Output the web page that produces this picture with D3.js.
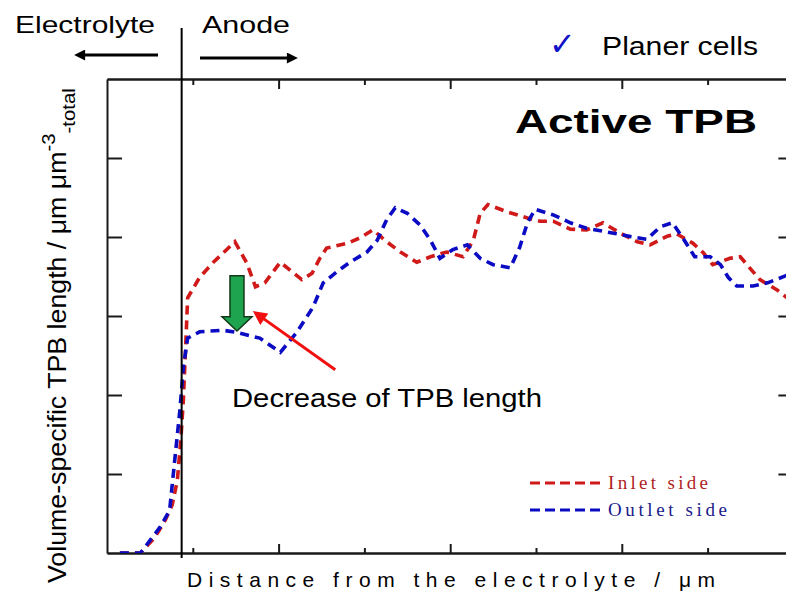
<!DOCTYPE html>
<html>
<head>
<meta charset="utf-8">
<script src="https://cdn.jsdelivr.net/npm/d3@7/dist/d3.min.js"></script>
<style>
  body { margin: 0; background: #fff; }
  svg { display: block; font-family: "Liberation Sans", Arial, sans-serif; }
  .axis path, .axis line { stroke: #1a1a1a; stroke-width: 2; }
</style>
</head>
<body>
<div id="chart"></div>
<script>
// distance (tick units) / TPB length (tick units)
const distInlet = [0.15, 0.39, 0.56, 0.68, 0.76, 0.82, 0.86, 0.89, 0.92, 0.94, 1.08, 1.24, 1.49, 1.63, 1.73, 1.84, 2.02, 2.27, 2.39, 2.48, 2.56, 2.80, 2.95, 3.10, 3.26, 3.42, 3.61, 3.77, 3.96, 4.15, 4.27, 4.35, 4.44, 4.66, 4.90, 5.05, 5.20, 5.40, 5.59, 5.78, 5.98, 6.18, 6.33, 6.53, 6.64, 6.83, 6.95, 7.06, 7.26, 7.38, 7.49, 7.61, 7.81, 7.96];
const tpbInlet = [0, 0, 0.20, 0.42, 0.61, 0.92, 1.43, 1.94, 2.70, 3.23, 3.49, 3.68, 3.94, 3.67, 3.37, 3.42, 3.68, 3.46, 3.54, 3.73, 3.86, 3.92, 3.99, 4.09, 3.94, 3.81, 3.68, 3.75, 3.81, 3.75, 3.96, 4.30, 4.41, 4.32, 4.24, 4.20, 4.20, 4.10, 4.09, 4.18, 4.05, 3.94, 3.90, 4.01, 4.04, 3.92, 3.80, 3.65, 3.73, 3.75, 3.61, 3.46, 3.33, 3.20];

const distOutlet = [0.15, 0.39, 0.62, 0.73, 0.79, 0.85, 0.89, 0.94, 1.08, 1.35, 1.52, 1.78, 2.02, 2.21, 2.40, 2.52, 2.68, 2.83, 3.03, 3.15, 3.26, 3.36, 3.50, 3.65, 3.77, 3.88, 4.03, 4.20, 4.35, 4.50, 4.70, 4.81, 4.90, 4.99, 5.20, 5.40, 5.59, 5.75, 5.94, 6.13, 6.29, 6.45, 6.59, 6.71, 6.85, 7.03, 7.15, 7.24, 7.34, 7.53, 7.70, 7.96];
const tpbOutlet = [0, 0, 0.33, 0.54, 1.18, 1.81, 2.35, 2.72, 2.80, 2.82, 2.79, 2.72, 2.54, 2.79, 3.11, 3.42, 3.56, 3.68, 3.81, 3.96, 4.22, 4.37, 4.30, 4.15, 3.96, 3.73, 3.84, 3.90, 3.73, 3.65, 3.61, 3.87, 4.18, 4.35, 4.28, 4.18, 4.11, 4.08, 4.04, 4.00, 3.97, 4.13, 4.18, 3.99, 3.75, 3.75, 3.65, 3.49, 3.38, 3.38, 3.42, 3.53];

const seriesNames = ["Inlet side", "Outlet side"];
const seriesColors = ["#d01a1a", "#0b0bc4"];
const legendTextColors = ["#b01e1e", "#1a1a8a"];

const xMajorTicks = [2, 4, 6];
const xMinorTicks = [1, 3, 5, 7];
const yTickValues = [1, 2, 3, 4, 5];
const electrolyteEdge = 0.87;

const size = { width: 786, height: 595 };
const margin = { top: 79, left: 107, bottom: 553, right: 793.4 };

const svg = d3.select("#chart")
  .append("svg")
  .attr("width", size.width)
  .attr("height", size.height);

const x = d3.scaleLinear().domain([0, 8]).range([margin.left, margin.right]);
const y = d3.scaleLinear().domain([0, 6]).range([margin.bottom, margin.top]);

svg.append("defs").append("clipPath")
  .attr("id", "plotClip")
  .append("rect")
  .attr("x", margin.left).attr("y", margin.top)
  .attr("width", size.width - margin.left)
  .attr("height", margin.bottom - margin.top);

// frame + inward ticks
function addAxis(axis, tx, ty) {
  svg.append("g")
    .attr("class", "axis")
    .attr("transform", `translate(${tx},${ty})`)
    .call(axis.tickFormat("").tickSizeOuter(0));
}
addAxis(d3.axisBottom(x).tickValues(xMajorTicks).tickSizeInner(-9), 0, margin.bottom);
addAxis(d3.axisBottom(x).tickValues(xMinorTicks).tickSizeInner(-5), 0, margin.bottom);
addAxis(d3.axisTop(x).tickValues(xMajorTicks).tickSizeInner(-10), 0, margin.top);
addAxis(d3.axisTop(x).tickValues(xMinorTicks).tickSizeInner(-6), 0, margin.top);
addAxis(d3.axisLeft(y).tickValues(yTickValues).tickSizeInner(-15), margin.left, 0);
addAxis(d3.axisRight(y).tickValues(yTickValues).tickSizeInner(-15), margin.right, 0);

// the series
const line = d3.line()
  .x(d => x(d[0]))
  .y(d => y(d[1]));

const series = [
  d3.zip(distInlet, tpbInlet),
  d3.zip(distOutlet, tpbOutlet)
];

svg.append("g")
  .attr("clip-path", "url(#plotClip)")
  .selectAll("path")
  .data(series)
  .enter()
  .append("path")
    .attr("d", line)
    .attr("fill", "none")
    .attr("stroke", (d, i) => seriesColors[i])
    .attr("stroke-width", 3.6)
    .attr("stroke-dasharray", "9,6");

// electrolyte / anode boundary
svg.append("line")
  .attr("x1", x(electrolyteEdge)).attr("x2", x(electrolyteEdge))
  .attr("y1", 28).attr("y2", 558)
  .attr("stroke", "#000")
  .attr("stroke-width", 2);

const defs = svg.select("defs");
function addMarker(id, color, w, h) {
  defs.append("marker")
    .attr("id", id)
    .attr("viewBox", "0 0 10 10")
    .attr("refX", 1).attr("refY", 5)
    .attr("markerUnits", "userSpaceOnUse")
    .attr("markerWidth", w).attr("markerHeight", h)
    .attr("orient", "auto")
    .append("path")
      .attr("d", "M0,0L10,5L0,10z")
      .attr("fill", color);
}
addMarker("headBlack", "#000", 14, 11);
addMarker("headRed", "#f01010", 15, 14);

// top labels and arrows
svg.append("text")
  .attr("x", 15).attr("y", 33)
  .attr("font-size", 24)
  .attr("textLength", 140).attr("lengthAdjust", "spacingAndGlyphs")
  .text("Electrolyte");

svg.append("text")
  .attr("x", 202).attr("y", 33)
  .attr("font-size", 24)
  .attr("textLength", 88).attr("lengthAdjust", "spacingAndGlyphs")
  .text("Anode");

svg.append("line")
  .attr("x1", 158).attr("y1", 55).attr("x2", 84).attr("y2", 55)
  .attr("stroke", "#000").attr("stroke-width", 3)
  .attr("marker-end", "url(#headBlack)");

svg.append("line")
  .attr("x1", 200).attr("y1", 58).attr("x2", 288).attr("y2", 58)
  .attr("stroke", "#000").attr("stroke-width", 3)
  .attr("marker-end", "url(#headBlack)");

svg.append("text")
  .attr("x", 549).attr("y", 55)
  .attr("font-family", "'DejaVu Sans', sans-serif")
  .attr("font-size", 32)
  .attr("font-weight", "bold")
  .attr("fill", "#1010c8")
  .text("\u2713");

svg.append("text")
  .attr("x", 602).attr("y", 55)
  .attr("font-size", 25)
  .attr("textLength", 156).attr("lengthAdjust", "spacingAndGlyphs")
  .text("Planer cells");

svg.append("text")
  .attr("x", 515).attr("y", 133)
  .attr("font-size", 33)
  .attr("font-weight", "bold")
  .attr("textLength", 242).attr("lengthAdjust", "spacingAndGlyphs")
  .text("Active TPB");

// y label: Volume-specific TPB length / um um^-3 _-total  (wide face -> stretch along text)
let yLabel = svg.append("text")
  .attr("transform", "translate(66,583) rotate(-90) scale(1.07,1)")
  .attr("font-size", 25)
  .attr("text-anchor", "start");
yLabel.append("tspan").text("Volume-specific TPB length / \u03bcm \u03bcm");
yLabel.append("tspan").attr("font-size", 19).attr("dy", -11).text("-3");
yLabel.append("tspan").attr("font-size", 19).attr("dy", 20).text("-total");

// x label
svg.append("text")
  .attr("x", 187).attr("y", 587)
  .attr("font-size", 21)
  .attr("textLength", 528).attr("lengthAdjust", "spacing")
  .text("Distance from the electrolyte / \u03bcm");

// annotation: green arrow + red pointer
const gx = x(1.515);
const arrowPts = [
  [gx - 7, y(3.51)], [gx + 7, y(3.51)], [gx + 7, y(2.99)], [gx + 15, y(2.99)],
  [gx, y(2.81)], [gx - 15, y(2.99)], [gx - 7, y(2.99)]
];
svg.append("path")
  .attr("d", "M" + arrowPts.join("L") + "Z")
  .attr("fill", "#1ea34f")
  .attr("stroke", "#123a18")
  .attr("stroke-width", 1.5);

svg.append("line")
  .attr("x1", x(2.66)).attr("y1", y(2.32))
  .attr("x2", x(1.82)).attr("y2", y(2.97))
  .attr("stroke", "#f01010").attr("stroke-width", 3)
  .attr("marker-end", "url(#headRed)");

svg.append("text")
  .attr("x", 232).attr("y", 407)
  .attr("font-size", 25)
  .attr("textLength", 310).attr("lengthAdjust", "spacingAndGlyphs")
  .text("Decrease of TPB length");

// legend
const legend = svg.append("g").selectAll("g")
  .data(seriesNames)
  .enter()
  .append("g")
  .attr("transform", (d, i) => `translate(530,${483 + i * 27})`);

legend.append("line")
  .attr("x1", 0).attr("x2", 72)
  .attr("stroke", (d, i) => seriesColors[i])
  .attr("stroke-width", 3)
  .attr("stroke-dasharray", "10,5");

legend.append("text")
  .attr("x", 78).attr("y", 6)
  .attr("font-family", "'Liberation Serif', 'Times New Roman', serif")
  .attr("font-size", 19)
  .attr("fill", (d, i) => legendTextColors[i])
  .attr("textLength", (d, i) => i === 0 ? 100 : 119)
  .attr("lengthAdjust", "spacing")
  .text(d => d);
</script>
</body>
</html>
